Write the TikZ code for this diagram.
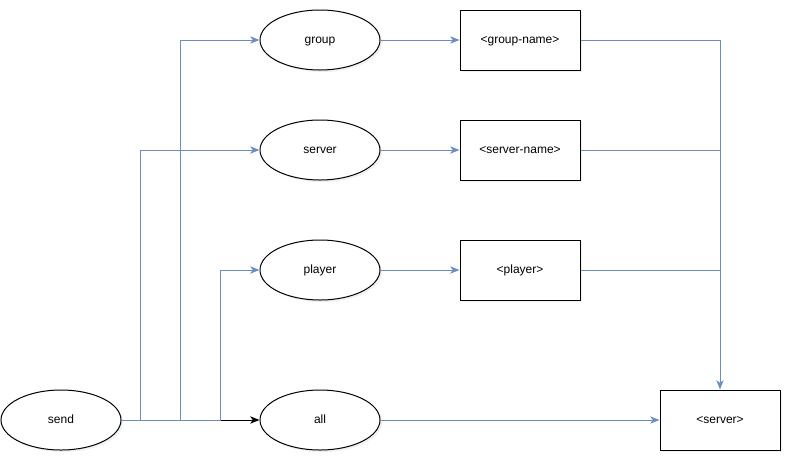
\documentclass[tikz,border=0pt]{standalone}
\usepackage{fontspec}
\setmainfont{Liberation Sans}
\usetikzlibrary{arrows.meta,shadows,shapes.geometric}
\definecolor{flowblue}{HTML}{6C8EBF}
\tikzset{
  soft/.style={drop shadow={opacity=0.12,shadow xshift=1.5pt,shadow yshift=-1.5pt}},
  label text/.style={font=\fontsize{9pt}{11pt}\selectfont,text height=6.6pt,text depth=1.6pt},
  oval/.style={ellipse,draw=black,fill=white,line width=0.75pt,minimum width=90pt,minimum height=45pt,inner sep=0pt,label text,soft},
  card/.style={rectangle,draw=black,fill=white,line width=0.75pt,minimum width=90pt,minimum height=45pt,inner sep=0pt,label text,soft},
  tip/.style={-{Stealth[length=7pt,width=5.5pt,inset=2pt]}},
  flow/.style={draw=flowblue,line width=0.75pt,tip},
  flowplain/.style={draw=flowblue,line width=0.75pt},
  mainflow/.style={draw=black,line width=0.75pt,tip},
}
\begin{document}
\begin{tikzpicture}[x=0.75pt,y=-0.75pt]
  \useasboundingbox (0,0) rectangle (792,472);

  % states
  \node[oval] (send)   at (61,420)  {send};
  \node[oval] (group)  at (320,40)  {group};
  \node[oval] (server) at (320,150) {server};
  \node[oval] (player) at (320,270) {player};
  \node[oval] (all)    at (320,420) {all};

  % arguments
  \node[card] (gname)  at (520,40)  {<group-name>};
  \node[card] (sname)  at (520,150) {<server-name>};
  \node[card] (pname)  at (520,270) {<player>};
  \node[card] (target) at (720,420) {<server>};

  % bend points of the fan-out from send
  \coordinate (bs) at (140,420);
  \coordinate (bg) at (180,420);
  \coordinate (bp) at (220,420);
  \coordinate (mg) at (720,40);
  \coordinate (ms) at (720,150);
  \coordinate (mp) at (720,270);

  % send -> all
  \draw[mainflow] (send.east) -- (all.west);

  % send -> the other subcommands
  \draw[flow] (send.east) -- (bg) |- (group.west);
  \draw[flow] (send.east) -- (bs) |- (server.west);
  \draw[flow] (send.east) -- (bp) |- (player.west);

  % subcommand -> argument
  \draw[flow] (group.east)  -- (gname.west);
  \draw[flow] (server.east) -- (sname.west);
  \draw[flow] (player.east) -- (pname.west);

  % everything ends at <server>
  \draw[flow] (gname.east) -- (mg) -- (target.north);
  \draw[flowplain] (sname.east) -- (ms);
  \draw[flowplain] (pname.east) -- (mp);
  \draw[flow] (all.east) -- (target.west);
\end{tikzpicture}
\end{document}
